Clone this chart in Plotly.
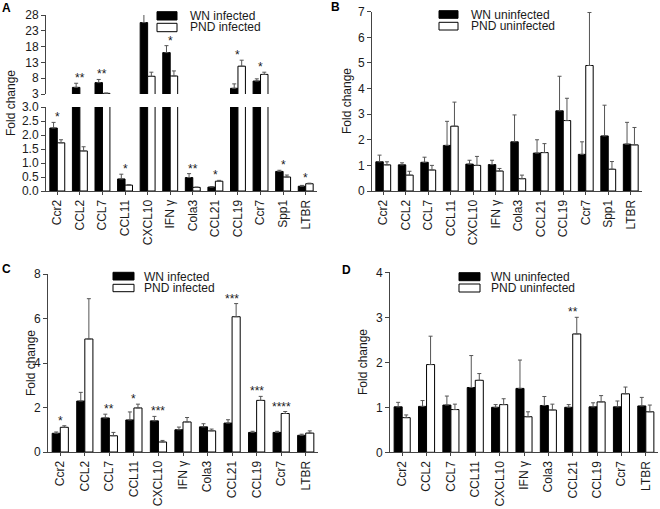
import plotly.graph_objects as go

W, H = 660, 509

cats_AB = ["Ccr2", "CCL2", "CCL7", "CCL11", "CXCL10", "IFN γ", "Cola3", "CCL21", "CCL19", "Ccr7", "Spp1", "LTBR"]
cats_CD = ["Ccr2", "CCL2", "CCL7", "CCL11", "CXCL10", "IFN γ", "Cola3", "CCL21", "CCL19", "Ccr7", "LTBR"]

A_wn = [2.25, 5.1, 6.6, 0.43, 25.6, 16.1, 0.48, 0.14, 4.8, 7.1, 0.70, 0.17]
A_wn_err = [0.2, 1.3, 1.0, 0.17, 3.3, 2.2, 0.14, 0.02, 1.4, 0.7, 0.04, 0.03]
A_pnd = [1.72, 1.43, 3.2, 0.21, 8.6, 8.7, 0.13, 0.35, 11.8, 9.2, 0.50, 0.26]
A_pnd_err = [0.11, 0.15, 0.1, 0.02, 1.3, 1.6, 0.01, 0.03, 1.9, 0.7, 0.07, 0.02]
A_stars = ["*", "**", "**", "*", "**", "*", "**", "*", "*", "*", "*", "*"]

B_wn = [1.14, 1.02, 1.12, 1.78, 1.05, 1.03, 1.92, 1.48, 3.13, 1.43, 2.15, 1.83]
B_wn_err = [0.26, 0.08, 0.2, 0.94, 0.15, 0.17, 1.05, 0.52, 1.35, 0.49, 1.2, 0.85]
B_pnd = [1.02, 0.62, 0.82, 2.53, 1.0, 0.78, 0.48, 1.5, 2.75, 4.9, 0.85, 1.8]
B_pnd_err = [0.12, 0.15, 0.18, 0.94, 0.35, 0.1, 0.14, 0.35, 0.87, 2.07, 0.3, 0.68]

C_wn = [0.84, 2.29, 1.53, 1.44, 1.4, 1.0, 1.13, 1.3, 0.88, 0.88, 0.75]
C_wn_err = [0.06, 0.39, 0.17, 0.36, 0.2, 0.12, 0.14, 0.15, 0.05, 0.05, 0.05]
C_pnd = [1.11, 5.08, 0.73, 1.98, 0.45, 1.35, 0.95, 6.08, 2.32, 1.73, 0.85]
C_pnd_err = [0.07, 1.81, 0.15, 0.17, 0.07, 0.2, 0.08, 0.59, 0.18, 0.09, 0.1]
C_stars = ["*", "", "**", "*", "***", "", "", "***", "***", "****", ""]

D_wn = [1.01, 1.02, 1.05, 1.44, 1.0, 1.42, 1.04, 1.0, 1.01, 1.01, 1.03]
D_wn_err = [0.1, 0.13, 0.2, 0.71, 0.06, 0.63, 0.2, 0.06, 0.09, 0.13, 0.19]
D_pnd = [0.77, 1.95, 0.95, 1.6, 1.06, 0.79, 0.94, 2.63, 1.12, 1.3, 0.9]
D_pnd_err = [0.06, 0.63, 0.12, 0.15, 0.13, 0.11, 0.13, 0.37, 0.14, 0.15, 0.15]
D_stars = ["", "", "", "", "", "", "", "**", "", "", ""]

FONT = "Liberation Sans, Arial, sans-serif"
TXT = "#1a1a1a"
AX = "#444444"
ERR = "#555555"


def fx(px):
    return px / W


def fy(py):
    return 1 - py / H


fig = go.Figure()


def add_pair(cats, wn, wn_err, pnd, pnd_err, xaxis, yaxis):
    fig.add_trace(go.Bar(x=cats, y=wn, marker=dict(color="black", line=dict(color="black", width=1)),
                         error_y=dict(type="data", array=wn_err, symmetric=False, arrayminus=[0] * len(wn),
                                      color=ERR, thickness=1, width=2),
                         xaxis=xaxis, yaxis=yaxis, showlegend=False, hoverinfo="skip"))
    fig.add_trace(go.Bar(x=cats, y=pnd, marker=dict(color="white", line=dict(color="black", width=1)),
                         error_y=dict(type="data", array=pnd_err, symmetric=False, arrayminus=[0] * len(pnd),
                                      color=ERR, thickness=1, width=2),
                         xaxis=xaxis, yaxis=yaxis, showlegend=False, hoverinfo="skip"))


add_pair(cats_AB, A_wn, A_wn_err, A_pnd, A_pnd_err, "x", "y")
add_pair(cats_AB, A_wn, A_wn_err, A_pnd, A_pnd_err, "x2", "y2")
add_pair(cats_AB, B_wn, B_wn_err, B_pnd, B_pnd_err, "x3", "y3")
add_pair(cats_CD, C_wn, C_wn_err, C_pnd, C_pnd_err, "x4", "y4")
add_pair(cats_CD, D_wn, D_wn_err, D_pnd, D_pnd_err, "x5", "y5")

tickfont = dict(family=FONT, size=12, color=TXT)


def xax(x0, x1, anchor, visible=True, n=12):
    d = dict(domain=[fx(x0), fx(x1)], anchor=anchor, type="category", range=[-0.5, n - 0.5],
             showgrid=False, zeroline=False, fixedrange=True, automargin=False)
    if visible:
        d.update(showline=True, linecolor=AX, linewidth=1, ticks="outside", ticklen=3, tickcolor=AX,
                 tickangle=-90, tickfont=tickfont)
    else:
        d.update(showline=False, showticklabels=False, ticks="")
    return d


def yax(y0, y1, anchor, rng, tickvals, fmt=None):
    d = dict(domain=[fy(y1), fy(y0)], anchor=anchor, range=rng, tickvals=tickvals,
             showline=True, linecolor=AX, linewidth=1, ticks="outside", ticklen=4, tickcolor=AX,
             showgrid=False, zeroline=False, tickfont=tickfont, fixedrange=True, automargin=False)
    if fmt:
        d["tickformat"] = fmt
    return d


layout = dict(
    template="none",
    width=W, height=H, margin=dict(l=0, r=0, t=0, b=0, pad=0, autoexpand=False),
    plot_bgcolor="white", paper_bgcolor="white",
    barmode="group", bargap=0.34, bargroupgap=0, showlegend=False, hovermode=False,
    font=dict(family=FONT, color=TXT),
    xaxis=xax(46, 317, "y"),
    yaxis=yax(107, 191, "x", [0, 3], [0, 0.5, 1, 1.5, 2, 2.5, 3], ".1f"),
    xaxis2=dict(xax(46, 317, "y2", visible=False), matches="x"),
    yaxis2=yax(15, 94, "x2", [3, 28], [3, 8, 13, 18, 23, 28]),
    xaxis3=xax(372, 642, "y3"),
    yaxis3=yax(11.7, 191, "x3", [0, 7], [0, 1, 2, 3, 4, 5, 6, 7]),
    xaxis4=xax(48, 318, "y4", n=11),
    yaxis4=yax(274, 452, "x4", [0, 8], [0, 2, 4, 6, 8]),
    xaxis5=xax(390, 658, "y5", n=11),
    yaxis5=yax(272.3, 452.3, "x5", [0, 4], [0, 1, 2, 3, 4]),
)
fig.update_layout(**layout)

annotations = []
star_font = dict(family=FONT, size=12, color=TXT)


def add_stars(cats, stars, wn, wn_err, pnd, pnd_err, xref, yref, split=None, xref2=None, yref2=None):
    for c, s, a, ae, b, be in zip(cats, stars, wn, wn_err, pnd, pnd_err):
        if not s:
            continue
        top = max(a + ae, b + be)
        xr, yr = xref, yref
        if split is not None and top > split:
            xr, yr = xref2, yref2
        annotations.append(dict(x=c, y=top, xref=xr, yref=yr, text=s, showarrow=False,
                                yanchor="bottom", yshift=-4, font=star_font))


add_stars(cats_AB, A_stars, A_wn, A_wn_err, A_pnd, A_pnd_err, "x", "y", split=3, xref2="x2", yref2="y2")
add_stars(cats_CD, C_stars, C_wn, C_wn_err, C_pnd, C_pnd_err, "x4", "y4")
add_stars(cats_CD, D_stars, D_wn, D_wn_err, D_pnd, D_pnd_err, "x5", "y5")

for xp, yp in [(11, 103), (347, 101), (31, 363), (363, 362)]:
    annotations.append(dict(x=fx(xp), y=fy(yp), xref="paper", yref="paper", text="Fold change",
                            textangle=-90, showarrow=False, xanchor="center", yanchor="middle",
                            font=dict(family=FONT, size=12, color=TXT)))

for lab, xp, yp in [("A", 6, 8), ("B", 336, 7), ("C", 6, 269), ("D", 346, 270)]:
    annotations.append(dict(x=fx(xp), y=fy(yp), xref="paper", yref="paper", text="<b>%s</b>" % lab,
                            showarrow=False, xanchor="center", yanchor="middle",
                            font=dict(family=FONT, size=12, color="black")))

shapes = []
legends = [
    (157, 177, 11.7, 20, 23.3, 31.7, 188, 15.7, 26.7, "WN infected", "PND infected"),
    (439, 458, 10.7, 18.3, 22.3, 30, 469, 15, 26, "WN uninfected", "PND uninfected"),
    (113, 134, 272.3, 280, 284.3, 291.7, 142, 276.5, 287.5, "WN infected", "PND infected"),
    (459, 480, 272.7, 280.7, 284, 292, 489, 276.5, 288, "WN uninfected", "PND uninfected"),
]
for x0, x1, a0, a1, b0, b1, tx, t1, t2, l1, l2 in legends:
    shapes.append(dict(type="rect", xref="paper", yref="paper", x0=fx(x0), x1=fx(x1), y0=fy(a1), y1=fy(a0),
                       fillcolor="black", line=dict(color="black", width=1)))
    shapes.append(dict(type="rect", xref="paper", yref="paper", x0=fx(x0), x1=fx(x1), y0=fy(b1), y1=fy(b0),
                       fillcolor="white", line=dict(color="black", width=1)))
    annotations.append(dict(x=fx(tx), y=fy(t1), xref="paper", yref="paper", text=l1, showarrow=False,
                            xanchor="left", yanchor="middle", font=dict(family=FONT, size=12, color=TXT)))
    annotations.append(dict(x=fx(tx), y=fy(t2), xref="paper", yref="paper", text=l2, showarrow=False,
                            xanchor="left", yanchor="middle", font=dict(family=FONT, size=12, color=TXT)))

fig.update_layout(annotations=annotations, shapes=shapes)
fig.write_html("out.html", config={"displayModeBar": False, "staticPlot": True},
               post_script="document.body.style.margin='0';document.body.style.overflow='hidden';")
